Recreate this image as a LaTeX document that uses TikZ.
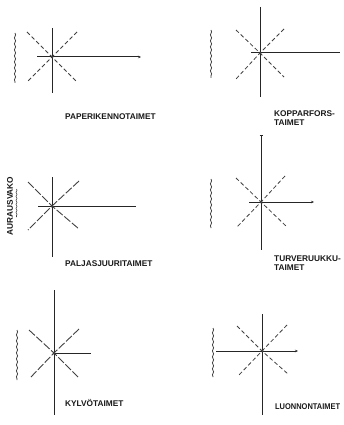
\documentclass[tikz,border=0pt]{standalone}
\usepackage{fontspec}
\setmainfont{Liberation Sans}
\usetikzlibrary{decorations.pathmorphing,arrows.meta}
\begin{document}
\begin{tikzpicture}[x=1pt,y=-1pt,
  axis/.style={draw=black!85,line width=1pt},
  arrowaxis/.style={axis,-{Stealth[length=3pt,width=2.5pt]}},
  diag/.style={draw=black!75,line width=0.8pt,dash pattern=on 4pt off 2.5pt},
  diaglong/.style={draw=black!75,line width=0.9pt,dash pattern=on 8pt off 2pt},
  furrow/.style={draw=black!75,line width=0.8pt,decorate,decoration={snake,amplitude=0.6pt,segment length=6pt}},
  lbl/.style={font=\fontsize{8.3}{9}\selectfont\bfseries,anchor=west,align=left,inner sep=0pt,text=black!90},
  ctr/.style={circle,fill=black,inner sep=0pt,minimum size=3pt}
]
\useasboundingbox (0,0) rectangle (343,425);
% ---------- Panel 1 ----------
\node[ctr] (c1) at (52,57) {};
\coordinate (v1t) at (52,28); \coordinate (v1b) at (52,93);
\coordinate (h1l) at (37,57); \coordinate (h1r) at (141,57);
\draw[axis] (v1t) -- (v1b);
\draw[arrowaxis] (h1l) -- (h1r);
\draw[diag] (27,32) -- (c1.center) -- (77,82);
\draw[diag] (77,32) -- (c1.center) -- (27,82);
\coordinate (w1t) at (15,33); \coordinate (w1b) at (15,83);
\draw[furrow] (w1t) -- (w1b);
\node[lbl] (l1) at (65,117) {PAPERIKENNOTAIMET};
% ---------- Panel 2 ----------
\node[ctr] (c2) at (260,53) {};
\coordinate (v2t) at (260,7); \coordinate (v2b) at (260,97);
\coordinate (h2l) at (251,53); \coordinate (h2r) at (340,53);
\draw[axis] (v2t) -- (v2b);
\draw[axis] (h2l) -- (h2r);
\draw[diag] (236,30) -- (c2.center) -- (284,77);
\draw[diag] (284,29) -- (c2.center) -- (236,79);
\coordinate (w2t) at (211,30); \coordinate (w2b) at (211,78);
\draw[furrow] (w2t) -- (w2b);
\node[lbl] (l2) at (274,118) {KOPPARFORS-\\TAIMET};
% ---------- Panel 3 ----------
\node[ctr] (c3) at (52,206) {};
\coordinate (v3t) at (52,177); \coordinate (v3b) at (52,257);
\coordinate (h3l) at (38,206); \coordinate (h3r) at (136,206);
\draw[axis] (v3t) -- (v3b);
\draw[axis] (h3l) -- (h3r);
\draw[diaglong] (28,182) -- (c3.center) -- (79,229);
\draw[diaglong] (79,181) -- (c3.center) -- (28,230);
\node[lbl,anchor=center,rotate=90] (l3a) at (10,206) {AURAUSVAKO};
\coordinate (u3t) at (16.5,189); \coordinate (u3b) at (16.5,217);
\draw[furrow,line width=0.6pt,decoration={snake,amplitude=0.5pt,segment length=4pt}] (u3t) -- (u3b);
\node[lbl] (l3) at (65,264) {PALJASJUURITAIMET};
% ---------- Panel 4 ----------
\node[ctr] (c4) at (261,202) {};
\coordinate (v4t) at (261,135); \coordinate (v4b) at (261,250);
\coordinate (h4l) at (249,202); \coordinate (h4r) at (314,202);
\draw[axis,{Bar[width=3pt]}-] (v4t) -- (v4b);
\draw[arrowaxis] (h4l) -- (h4r);
\draw[diag] (236,178) -- (c4.center) -- (287,227);
\draw[diag] (285,176) -- (c4.center) -- (236,228);
\coordinate (w4t) at (211,179); \coordinate (w4b) at (211,228);
\draw[furrow] (w4t) -- (w4b);
\node[lbl] (l4) at (274,263) {TURVERUUKKU-\\TAIMET};
% ---------- Panel 5 ----------
\node[ctr] (c5) at (54,353) {};
\coordinate (v5t) at (54,290); \coordinate (v5b) at (54,415);
\coordinate (h5r) at (91,353);
\draw[axis] (v5t) -- (v5b);
\draw[axis] (c5.center) -- (h5r);
\draw[diaglong] (29,330) -- (c5.center) -- (79,378);
\draw[diaglong] (79,329) -- (c5.center) -- (30,378);
\coordinate (w5t) at (17,330); \coordinate (w5b) at (17,380);
\draw[furrow] (w5t) -- (w5b);
\node[lbl] (l5) at (65,403) {KYLVÖTAIMET};
% ---------- Panel 6 ----------
\node[ctr] (c6) at (262,351) {};
\coordinate (v6t) at (262,314); \coordinate (v6b) at (262,415);
\coordinate (h6l) at (216,351); \coordinate (h6r) at (298,351);
\draw[axis] (v6t) -- (v6b);
\draw[arrowaxis] (h6l) -- (h6r);
\draw[diag] (237,326) -- (c6.center) -- (288,374);
\draw[diag] (287,325) -- (c6.center) -- (238,376);
\coordinate (w6t) at (213,328); \coordinate (w6b) at (213,377);
\draw[furrow] (w6t) -- (w6b);
\node[lbl,xscale=0.9] (l6) at (275,407) {LUONNONTAIMET};
\end{tikzpicture}
\end{document}
